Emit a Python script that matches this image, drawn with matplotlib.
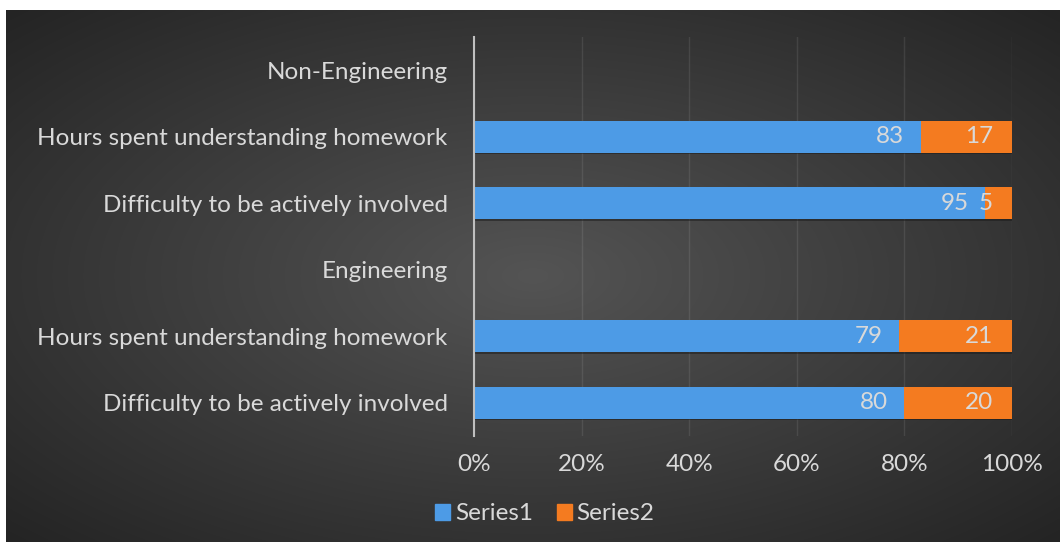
import numpy as np
import matplotlib
matplotlib.use("Agg")
import matplotlib.pyplot as plt
from matplotlib.patches import Rectangle

categories = ["Difficulty to be actively involved", "Hours spent understanding homework", "Engineering",
              "Difficulty to be actively involved", "Hours spent understanding homework", "Non-Engineering"]
series1 = [80, 79, np.nan, 95, 83, np.nan]
series2 = [20, 21, np.nan, 5, 17, np.nan]
xticks = [0, 20, 40, 60, 80, 100]
xtick_labels = ["0%", "20%", "40%", "60%", "80%", "100%"]

W, H = 1060, 542
fig = plt.figure(figsize=(W/100, H/100), dpi=100, facecolor="white")
plt.rcParams['font.family'] = ['Lato', 'DejaVu Sans']

# background with radial gradient
bg = fig.add_axes([6/W, 0, 1-6/W, 1-10/H])
bg.set_axis_off()
ny, nx = 300, 600
yy, xx = np.mgrid[-1:1:ny*1j, -1:1:nx*1j]
r = np.sqrt(xx**2 + yy**2) / np.sqrt(2)
c_in = np.array([84, 84, 84]) / 255
c_out = np.array([36, 36, 36]) / 255
img = c_in[None, None, :] * (1 - r[..., None]) + c_out[None, None, :] * r[..., None]
bg.imshow(img, aspect="auto", extent=[0, 1, 0, 1], interpolation="bilinear")
bg.set_xlim(0, 1); bg.set_ylim(0, 1)

ax = fig.add_axes([474/W, 1-436/H, (1012-474)/W, (436-37)/H])
ax.patch.set_alpha(0)
y = np.arange(len(categories))
s1 = np.array(series1, dtype=float)
s2 = np.array(series2, dtype=float)
blue = "#4D9BE6"
orange = "#F47B20"
# subtle shadow beneath bars
ax.barh(y - 0.025, np.nan_to_num(s1) + np.nan_to_num(s2), height=0.48, color="#1a1a1a", alpha=0.5, zorder=2)
ax.barh(y, s1, height=0.48, color=blue, zorder=3)
ax.barh(y, s2, left=s1, height=0.48, color=orange, zorder=3)
txtc = "#D9D9D9"
fs = 17.5
for i in range(len(y)):
    if not np.isnan(s1[i]):
        ax.text(s1[i] - 3.0, y[i], f"{int(s1[i])}", ha="right", va="center", color=txtc, fontsize=fs, zorder=4)
        ax.text(s1[i] + s2[i] - 3.5, y[i], f"{int(s2[i])}", ha="right", va="center", color=txtc, fontsize=fs, zorder=4)

ax.set_xlim(0, 100)
ax.set_ylim(-0.5, len(categories) - 0.5)
ax.set_yticks(y)
ax.set_yticklabels(categories, color=txtc, fontsize=fs)
ax.set_xticks(xticks)
ax.set_xticklabels(xtick_labels, color=txtc, fontsize=fs)
ax.tick_params(axis="both", length=0)
ax.tick_params(axis="y", pad=19)
ax.tick_params(axis="x", pad=13)
for sp in ["top", "right", "bottom"]:
    ax.spines[sp].set_visible(False)
ax.spines["left"].set_color("#BFBFBF")
ax.spines["left"].set_linewidth(1.5)
ax.spines["left"].set_zorder(5)
ax.grid(axis="x", color="white", alpha=0.09, linewidth=1.0, zorder=0)
ax.set_axisbelow(True)

handles = [Rectangle((0, 0), 1, 1, color=blue), Rectangle((0, 0), 1, 1, color=orange)]
fig.legend(handles, ["Series1", "Series2"], loc="center", bbox_to_anchor=(545/W, 1-514/H),
           ncol=2, frameon=False, fontsize=fs, labelcolor=txtc, handlelength=0.6, handleheight=0.6,
           handletextpad=0.2, columnspacing=1.0, borderpad=0.2)

fig.savefig("out.png", dpi=100, facecolor="white")
